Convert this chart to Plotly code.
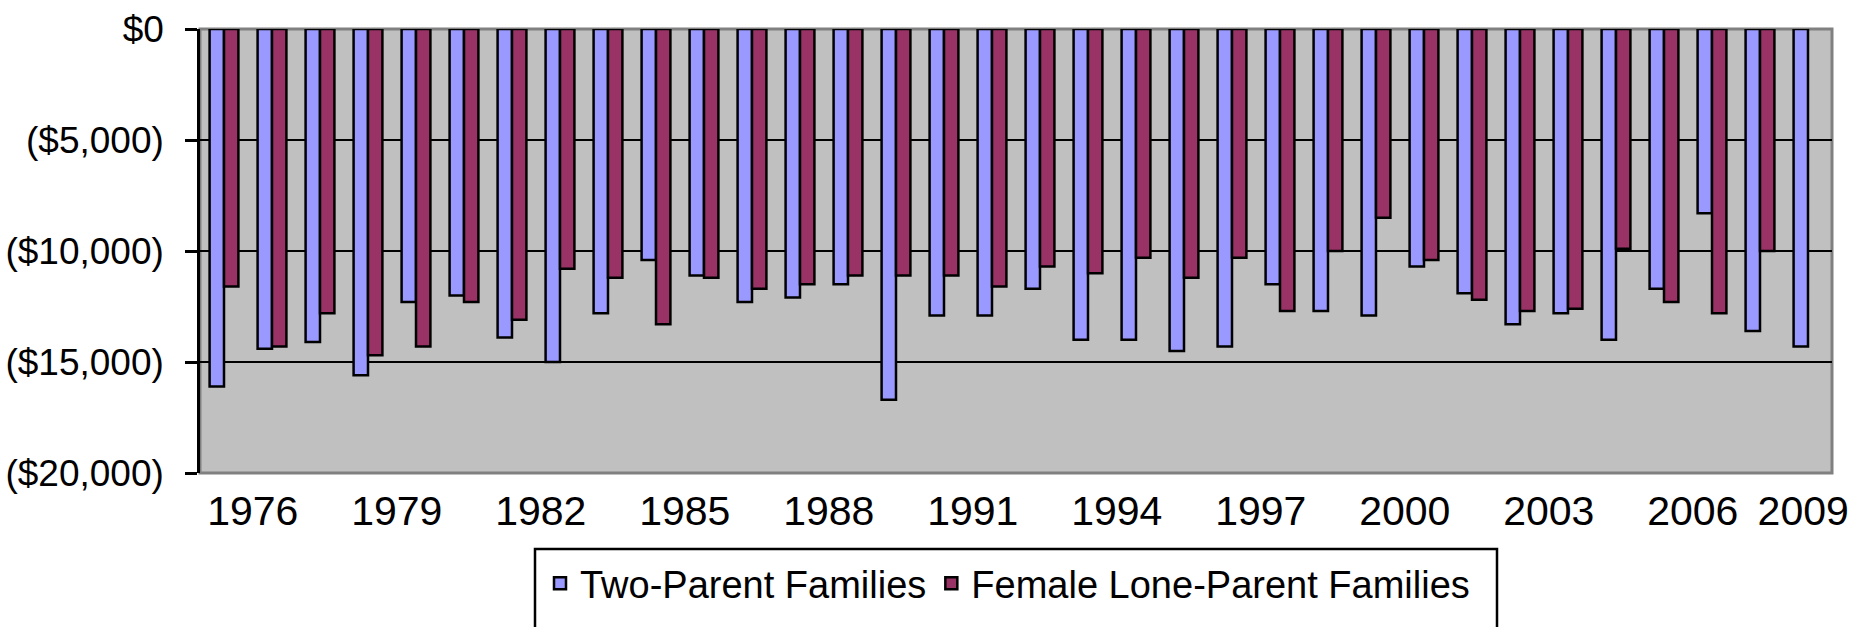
import plotly.graph_objects as go

years = [1976, 1977, 1978, 1979, 1980, 1981, 1982, 1983, 1984, 1985, 1986, 1987,
         1988, 1989, 1990, 1991, 1992, 1993, 1994, 1995, 1996, 1997, 1998, 1999,
         2000, 2001, 2002, 2003, 2004, 2005, 2006, 2007, 2008, 2009]

two_parent = [-16100, -14400, -14100, -15600, -12300, -12000, -13900, -15000,
              -12800, -10400, -11100, -12300, -12100, -11500, -16700, -12900,
              -12900, -11700, -14000, -14000, -14500, -14300, -11500, -12700,
              -12900, -10700, -11900, -13300, -12800, -14000, -11700, -8300,
              -13600, -14300]

female_lone = [-11600, -14300, -12800, -14700, -14300, -12300, -13100, -10800,
               -11200, -13300, -11200, -11700, -11500, -11100, -11100, -11100,
               -11600, -10700, -11000, -10300, -11200, -10300, -12700, -10000,
               -8500, -10400, -12200, -12700, -12600, -9900, -12300, -12800,
               -10000, None]

tick_years = [1976, 1979, 1982, 1985, 1988, 1991, 1994, 1997, 2000, 2003, 2006, 2009]
tick_labels = [str(y) for y in tick_years]

y_ticks = [0, -5000, -10000, -15000, -20000]
y_labels = ["$0", "($5,000)", "($10,000)", "($15,000)", "($20,000)"]

FONT = "Liberation Sans, Arial, sans-serif"
BLUE = "#9999FF"
MAROON = "#993366"

fig = go.Figure()
fig.add_trace(go.Bar(x=years, y=two_parent, name="Two-Parent Families",
                     marker=dict(color=BLUE, line=dict(color="black", width=2.5))))
fig.add_trace(go.Bar(x=years, y=female_lone, name="Female Lone-Parent Families",
                     marker=dict(color=MAROON, line=dict(color="black", width=2.5))))

# label positions (offset like the original layout; last one pulled in to fit)
tick_pos = [y + 0.6 for y in tick_years[:-1]] + [tick_years[-1] - 0.1]

W, H = 1858, 627
ml, mr, mt, mb = 200, 26, 29, 137
pw = W - ml - mr
ph = H - mt - mb

def px_x(p):
    return (p - ml) / pw

def px_y(p):
    return (H - mb - p) / ph

fig.update_layout(
    width=W, height=H,
    margin=dict(l=ml, r=mr, t=mt, b=mb, pad=0),
    paper_bgcolor="white",
    plot_bgcolor="#C0C0C0",
    barmode="group",
    bargap=0.4,
    bargroupgap=0,
    font=dict(family=FONT, color="black"),
    showlegend=True,
    legend=dict(orientation="h", x=px_x(540), xanchor="left",
                y=px_y(572), yanchor="top",
                font=dict(family=FONT, size=38, color="black"),
                bgcolor="rgba(0,0,0,0)", borderwidth=0,
                itemwidth=30, traceorder="normal"),
    xaxis=dict(range=[years[0] - 0.5, years[-1] + 0.5],
               tickvals=tick_pos, ticktext=tick_labels,
               ticks="", showgrid=False, zeroline=False,
               showline=False, automargin=False,
               tickfont=dict(family=FONT, size=41, color="black"),
               ticklabelstandoff=10),
    yaxis=dict(range=[-20000, 0], tickvals=y_ticks, ticktext=y_labels,
               showgrid=True, gridcolor="black", gridwidth=2,
               zeroline=False, showline=True, linecolor="black", linewidth=2.5,
               ticks="outside", ticklen=12, tickwidth=2.5, tickcolor="black",
               automargin=False,
               tickfont=dict(family=FONT, size=37, color="black"),
               ticklabelstandoff=14),
    shapes=[
        dict(type="rect", xref="paper", yref="paper", x0=0, x1=1, y0=0, y1=1,
             line=dict(color="#808080", width=3), fillcolor="rgba(0,0,0,0)",
             layer="below"),
        dict(type="rect", xref="paper", yref="paper",
             x0=px_x(535), x1=px_x(1497), y0=px_y(569), y1=px_y(660),
             line=dict(color="black", width=2.5), fillcolor="rgba(0,0,0,0)"),
    ],
)

fig.write_html("out.html", config={"displayModeBar": False},
               post_script="document.body.style.margin='0';document.body.style.overflow='hidden';")
